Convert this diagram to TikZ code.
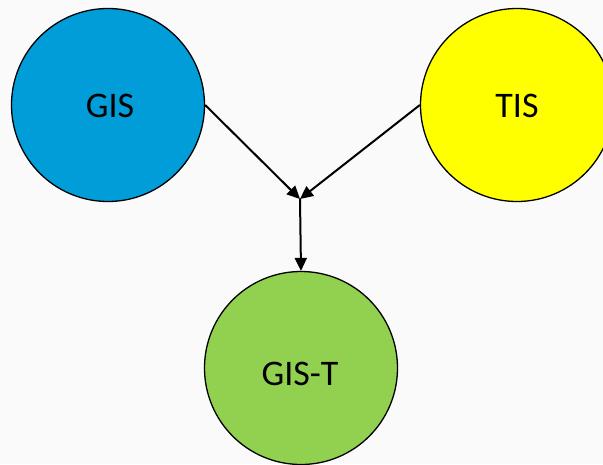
\documentclass[tikz,border=0pt]{standalone}
\usepackage{fontspec}
\setmainfont{Carlito}
\usetikzlibrary{arrows.meta}
\definecolor{bgcol}{RGB}{250,250,250}
\definecolor{gisblue}{RGB}{0,157,217}
\definecolor{tisyellow}{RGB}{255,255,0}
\definecolor{gistgreen}{RGB}{146,208,80}
\tikzset{
  blob/.style={circle, draw=black, line width=1.3pt, minimum size=193pt, inner sep=0pt},
  lbl/.style={font=\fontsize{36}{40}\selectfont, text=black},
  conn/.style={line width=2pt, -{Triangle[length=13pt,width=12pt]}}
}
\begin{document}
\begin{tikzpicture}[x=1pt,y=1pt]
\fill[bgcol] (0,0) rectangle (603,-464);
\useasboundingbox (0,0) rectangle (603,-464);
\begin{scope}
\clip (0,0) rectangle (603,-464);
\node[blob, fill=gisblue] (gis) at (108,-105) {};
\node[blob, fill=tisyellow] (tis) at (517,-105) {};
\node[blob, fill=gistgreen] (gist) at (301,-368) {};
\node[lbl] (gislbl) at (110,-106) {GIS};
\node[lbl] (tislbl) at (517,-106) {TIS};
\node[lbl] (gistlbl) at (300,-374) {GIS-T};
\coordinate (j) at (300,-199);
\draw[conn] (gis.east) -- (j);
\draw[conn] (tis.west) -- (j);
\draw[conn] (j) -- (gist.north);
\end{scope}
\end{tikzpicture}
\end{document}
